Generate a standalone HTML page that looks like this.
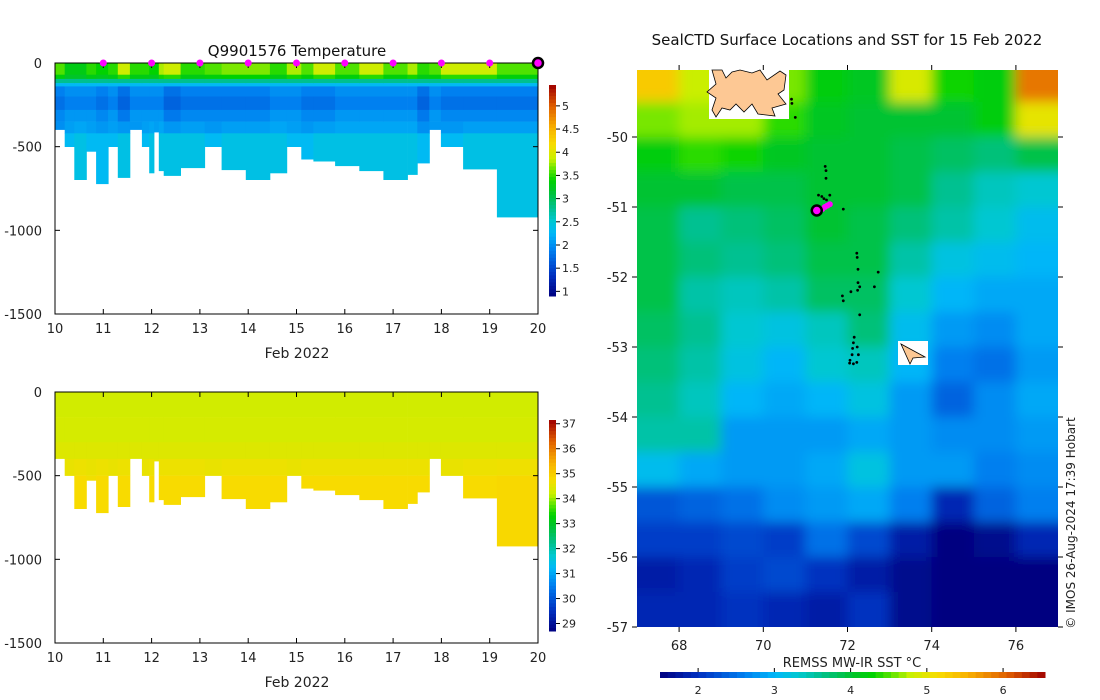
<!DOCTYPE html>
<html><head><meta charset="utf-8">
<style>
body{margin:0;background:#fff;}
svg{display:block;font-family:"DejaVu Sans","Liberation Sans",sans-serif;}
</style></head>
<body>
<svg id="root" width="1100" height="700" viewBox="0 0 1100 700" xmlns="http://www.w3.org/2000/svg">
<defs>
<filter id="blur" x="-5%" y="-5%" width="110%" height="110%"><feGaussianBlur stdDeviation="6"/></filter>
<clipPath id="mapclip"><rect x="637" y="70" width="421" height="557"/></clipPath>
</defs>
<g id="tchart"></g>
<g id="schart"></g>
<g id="map"></g>
</svg>
<script>
// ---- Section data ----
const profileStart=[10.0,10.2,10.4,10.65,10.85,11.1,11.3,11.55,11.8,11.95,12.05,12.15,12.25,12.6,13.1,13.45,13.95,14.45,14.8,15.1,15.35,15.8,16.3,16.8,17.3,17.5,17.75,17.99,18.45,19.15,19.5];
const profileDepth=[398,500,697,528,722,500,685,398,500,657,413,644,673,626,500,638,697,657,500,575,587,614,644,697,667,598,398,500,634,921];
const surfTemp=[3.6,3.3,3.3,3.5,3.4,3.5,3.9,3.5,3.5,3.4,3.4,3.8,3.9,3.5,3.6,3.7,3.7,3.5,3.8,3.6,3.9,3.6,3.9,3.6,3.8,3.5,3.6,3.9,3.9,3.6];
const minTemp=[1.8,1.9,1.9,1.9,1.8,1.9,1.7,1.9,1.9,1.9,1.9,1.9,1.7,1.8,1.8,1.8,1.8,1.9,1.9,1.8,1.8,1.9,1.9,1.9,1.9,1.7,1.9,1.8,1.8,1.8];
const deepTemp=[2.2,2.3,2.4,2.3,2.3,2.3,2.4,2.2,2.3,2.4,2.3,2.4,2.4,2.4,2.3,2.4,2.4,2.4,2.3,2.3,2.4,2.4,2.4,2.4,2.4,2.3,2.2,2.3,2.4,2.4];
const upperSal=[34.3,34.3,34.3,34.3,34.3,34.3,34.3,34.3,34.3,34.3,34.3,34.3,34.3,34.3,34.3,34.3,34.3,34.3,34.3,34.3,34.3,34.3,34.3,34.3,34.3,34.3,34.3,34.3,34.3,34.3];
const deepSal=[34.6,34.7,34.8,34.7,34.8,34.7,34.8,34.6,34.7,34.8,34.6,34.8,34.8,34.8,34.7,34.8,34.8,34.8,34.7,34.8,34.8,34.8,34.8,34.8,34.8,34.8,34.6,34.7,34.8,34.85];
const markerDays=[11,12,13,14,15,16,17,18,19];
const lastDay=20;
const dayTicks=[10,11,12,13,14,15,16,17,18,19,20];
const depthTicks=[0,-500,-1000,-1500];
const tempTicks=[1,1.5,2,2.5,3,3.5,4,4.5,5];
const salTicks=[29,30,31,32,33,34,35,36,37];

// ---- Map data ----
const gridLon=[67,68,69,70,71,72,73,74,75,76];
const gridLat=[-49,-49.5,-50,-50.5,-51,-51.5,-52,-52.5,-53,-53.5,-54,-54.5,-55,-55.5,-56,-56.5];
const sst=[
[5.3,4.8,4.7,4.6,4.2,4.1,4.9,4.3,4.2,5.9],
[4.6,4.7,4.7,4.4,4.1,4.0,4.0,4.0,4.2,5.0],
[4.2,4.4,4.3,4.1,4.0,4.0,3.9,3.8,3.7,3.9],
[4.0,4.0,3.9,3.9,4.0,4.0,3.9,3.6,3.4,3.3],
[3.9,3.6,3.7,3.8,4.0,3.9,3.7,3.5,3.3,3.1],
[3.9,3.7,3.6,3.7,3.9,3.9,3.5,3.2,3.1,3.0],
[3.9,3.5,3.4,3.5,3.8,3.8,3.3,3.0,2.9,2.9],
[3.8,3.6,3.3,3.2,3.4,3.7,3.1,2.8,2.7,2.9],
[3.7,3.5,3.2,3.0,3.3,3.4,3.0,2.6,2.5,2.8],
[3.6,3.4,3.0,2.9,3.0,3.2,2.8,2.4,2.7,2.9],
[3.5,3.5,2.8,2.8,2.8,2.9,2.8,2.7,2.7,2.8],
[3.1,2.9,2.8,2.8,2.9,3.2,2.8,2.8,2.6,2.7],
[2.3,2.4,2.5,2.7,2.8,2.9,2.6,1.9,2.4,2.6],
[2.1,2.1,2.2,2.1,2.5,2.2,1.8,1.5,1.6,1.9],
[1.8,1.9,2.1,2.2,2.0,1.8,1.6,1.5,1.5,1.5],
[1.9,1.9,2.0,1.9,1.8,2.0,1.6,1.5,1.5,1.5]];
const trackLon=[70.67,70.68,70.76,71.47,71.49,71.49,71.31,71.39,71.44,71.50,71.58,71.90,72.22,72.23,72.25,72.73,72.25,72.29,72.64,72.24,72.08,71.88,71.90,72.29,72.16,72.14,72.23,72.12,72.26,72.11,72.06,72.05,72.14,72.22];
const trackLat=[-49.46,-49.52,-49.72,-50.42,-50.48,-50.59,-50.83,-50.85,-50.88,-50.90,-50.83,-51.03,-51.66,-51.72,-51.89,-51.93,-52.08,-52.14,-52.14,-52.19,-52.21,-52.27,-52.34,-52.54,-52.86,-52.94,-53.0,-53.02,-53.11,-53.11,-53.19,-53.23,-53.24,-53.22];
const recentLon=[71.40,71.46,71.52,71.58,71.35];
const recentLat=[-51.03,-51.0,-50.98,-50.96,-51.05];
const currentLon=71.27, currentLat=-51.05;
const lonTicks=[68,70,72,74,76];
const latTicks=[-50,-51,-52,-53,-54,-55,-56,-57];
const sstTicks=[2,3,4,5,6];

const NS="http://www.w3.org/2000/svg";
function mk(parent,tag,attrs,text){const e=document.createElementNS(NS,tag);for(const k in attrs)e.setAttribute(k,attrs[k]);if(text!==undefined)e.textContent=text;parent.appendChild(e);return e;}
const stops=[[0,[0,0,128]],[0.1,[0,48,192]],[0.22,[0,128,240]],[0.3,[0,184,248]],[0.36,[0,200,208]],[0.42,[0,192,140]],[0.5,[0,195,45]],[0.55,[0,210,0]],[0.6,[90,228,0]],[0.65,[200,240,0]],[0.72,[248,220,0]],[0.8,[248,176,0]],[0.9,[224,96,0]],[1,[160,0,0]]];
function cmap(v,lo,hi){let t=(v-lo)/(hi-lo);t=Math.max(0,Math.min(1,t));for(let i=1;i<stops.length;i++){if(t<=stops[i][0]){const a=stops[i-1],b=stops[i];const f=(t-a[0])/(b[0]-a[0]);const c=a[1].map((x,j)=>Math.round(x+(b[1][j]-x)*f));return `rgb(${c[0]},${c[1]},${c[2]})`;}}return 'rgb(160,0,0)';}

// ---- Section charts ----
const X0=55,X1=538;
function xDay(d){return X0+(d-10)*(X1-X0)/10;}
function buildSection(g,top,kind){
  const bot=top+251;
  const yD=dep=>top+dep*(251/1500);
  const plot=mk(g,'g',{});
  
  
  const lo=kind==='temperature'?0.9:28.7, hi=kind==='temperature'?5.45:37.15;
  for(let i=0;i<profileDepth.length;i++){
    const xa=xDay(profileStart[i]), xb=xDay(i+1<profileDepth.length?profileStart[i+1]:lastDay);
    const D=profileDepth[i];
    let layers;
    if(kind==='temperature'){
      const s=surfTemp[i],m=minTemp[i],d=deepTemp[i];
      layers=[[0,70,s],[70,95,(s+3.1)/2],[95,120,2.8],[120,140,2.3],[140,200,m+0.1],[200,280,m],[280,350,m+0.15],[350,420,(m+d)/2],[420,2000,d]];
    } else {
      const u=upperSal[i],d=deepSal[i];
      layers=[[0,150,u],[150,300,u+0.05],[300,400,u+0.15],[400,500,(u+d)/2+0.1],[500,2000,d]];
    }
    for(const L of layers){
      if(L[0]>=D)break;
      const r=mk(plot,'rect',{x:xa.toFixed(1),y:yD(L[0]).toFixed(1),width:(xb-xa+0.4).toFixed(1),height:(yD(Math.min(L[1],D))-yD(L[0])+0.3).toFixed(1),fill:cmap(L[2],lo,hi)});
      
      
    }
  }
  const ax=mk(g,'rect',{x:X0,y:top,width:X1-X0,height:251,fill:'none',stroke:'#000','stroke-width':1});
  
  
  for(const d of dayTicks){
    const x=xDay(d);
    mk(g,'line',{x1:x,x2:x,y1:bot,y2:bot-5,stroke:'#000'});
    mk(g,'line',{x1:x,x2:x,y1:top,y2:top+5,stroke:'#000'});
    const t=mk(g,'text',{x:x,y:bot+19,'text-anchor':'middle','font-size':13,fill:'#222'},String(d));
    
    
  }
  for(const v of depthTicks){
    const y=yD(-v);
    mk(g,'line',{x1:X0,x2:X0+5,y1:y,y2:y,stroke:'#000'});
    mk(g,'line',{x1:X1,x2:X1-5,y1:y,y2:y,stroke:'#000'});
    const t=mk(g,'text',{x:X0-13,y:y+5,'text-anchor':'end','font-size':13,fill:'#222'},String(v));
    
    
  }
  const xl=mk(g,'text',{x:297,y:bot+44,'text-anchor':'middle','font-size':14,fill:'#222'},'Feb 2022');
  
  
  const cb=mk(g,'g',{});
  
  
  const cbTop=kind==='temperature'?85:420, cbBot=kind==='temperature'?296:631;
  const ticks=kind==='temperature'?tempTicks:salTicks;
  const n=60;
  for(let k=0;k<n;k++){
    const v=lo+(hi-lo)*(k+0.5)/n;
    const y=cbBot-(k+1)*(cbBot-cbTop)/n;
    mk(cb,'rect',{x:549,y:y.toFixed(2),width:7,height:((cbBot-cbTop)/n+0.5).toFixed(2),fill:cmap(v,lo,hi)});
  }
  for(const v of ticks){
    const y=cbBot-(v-lo)/(hi-lo)*(cbBot-cbTop);
    mk(cb,'line',{x1:556,x2:560,y1:y,y2:y,stroke:'#000'});
    const t=mk(cb,'text',{x:562,y:y+4,'font-size':11,fill:'#222'},String(v));
    
    
  }
}
const tg=document.getElementById('tchart');
buildSection(tg,63,'temperature');
const ttl=mk(tg,'text',{x:297,y:56,'text-anchor':'middle','font-size':15,fill:'#111'},'Q9901576  Temperature');


for(const d of markerDays){
  const c=mk(tg,'circle',{cx:xDay(d),cy:63,r:3.5,fill:'#ff00ff'});
  
  
}
const lastM=mk(tg,'circle',{cx:xDay(lastDay),cy:63,r:5,fill:'#ff00ff',stroke:'#000','stroke-width':2.5});


buildSection(document.getElementById('schart'),392,'salinity');

// ---- Map ----
const mg=document.getElementById('map');
const MX0=637,MX1=1058,MY0=70,MY1=627;
const lonX=l=>MX0+(l-67)*(MX1-MX0)/10;
const latY=l=>137+(-50-l)*70;
const field=mk(mg,'g',{'clip-path':'url(#mapclip)'});


const fb=mk(field,'g',{filter:'url(#blur)'});
for(let r=0;r<gridLat.length;r++)for(let c=0;c<gridLon.length;c++){
  const x0=lonX(gridLon[c]),y0=latY(gridLat[r]);
  const ex=c===0?30:0, ey=r===0?30:0, ex2=c===gridLon.length-1?30:0, ey2=r===gridLat.length-1?30:0;
  const cell=mk(fb,'rect',{x:(x0-ex).toFixed(1),y:(y0-ey).toFixed(1),width:(lonX(gridLon[c]+1)-x0+ex+ex2+0.5).toFixed(1),height:(latY(gridLat[r]-0.5)-y0+ey+ey2+0.5).toFixed(1),fill:cmap(sst[r][c],1.5,6.55)});
  
  
}
const heard=mk(mg,'g',{});


mk(heard,'rect',{x:709,y:70,width:80,height:49,fill:'#fff'});
mk(heard,'polygon',{points:'712,70 722,70 726,78 732,72 740,70 752,73 760,70 767,80 780,71 786,75 784,90 778,94 786,104 772,108 775,116 758,114 752,104 744,112 736,104 730,110 722,108 716,117 712,110 716,98 707,92 716,84',fill:'#fdc894',stroke:'#000','stroke-width':0.8});
const mcd=mk(mg,'g',{});


mk(mcd,'rect',{x:898,y:341,width:30,height:24,fill:'#fff'});
mk(mcd,'polygon',{points:'901,344 925,357 913,358 910,364',fill:'#fdc894',stroke:'#000','stroke-width':0.8});
for(let i=0;i<trackLon.length;i++){
  const d=mk(mg,'circle',{cx:lonX(trackLon[i]).toFixed(1),cy:latY(trackLat[i]).toFixed(1),r:1.4,fill:'#000'});
  
  
}
for(let i=0;i<recentLon.length;i++){
  const d=mk(mg,'circle',{cx:lonX(recentLon[i]).toFixed(1),cy:latY(recentLat[i]).toFixed(1),r:3,fill:'#ff00ff'});
  
  
}
const cur=mk(mg,'circle',{cx:lonX(currentLon),cy:latY(currentLat),r:5,fill:'#ff00ff',stroke:'#000','stroke-width':2.5});


for(const l of lonTicks){
  const x=lonX(l);
  mk(mg,'line',{x1:x,x2:x,y1:MY0,y2:MY0-5,stroke:'#000'});
  mk(mg,'line',{x1:x,x2:x,y1:MY1,y2:MY1+5,stroke:'#000'});
  const t=mk(mg,'text',{x:x,y:MY1+23,'text-anchor':'middle','font-size':13,fill:'#222'},String(l));
  
  
}
for(const l of latTicks){
  const y=latY(l);
  mk(mg,'line',{x1:MX0,x2:MX0-5,y1:y,y2:y,stroke:'#000'});
  mk(mg,'line',{x1:MX1,x2:MX1+5,y1:y,y2:y,stroke:'#000'});
  const t=mk(mg,'text',{x:MX0-9,y:y+5,'text-anchor':'end','font-size':13,fill:'#222'},String(l));
  
  
}
const mt=mk(mg,'text',{x:847,y:45,'text-anchor':'middle','font-size':15,fill:'#111'},'SealCTD Surface Locations and SST for 15 Feb 2022');


const cr=mk(mg,'text',{x:0,y:0,'text-anchor':'middle','font-size':12,fill:'#222',transform:'translate(1075,523) rotate(-90)'},'© IMOS 26-Aug-2024 17:39 Hobart');


const cbl=mk(mg,'text',{x:852,y:667,'text-anchor':'middle','font-size':13,fill:'#222'},'REMSS MW-IR SST °C');


const scb=mk(mg,'g',{});


const CB0=660,CB1=1045,SLO=1.5,SHI=6.55;
for(let k=0;k<50;k++){
  const v=SLO+(SHI-SLO)*(k+0.5)/50;
  mk(scb,'rect',{x:(CB0+k*(CB1-CB0)/50).toFixed(2),y:672,width:((CB1-CB0)/50+0.5).toFixed(2),height:6,fill:cmap(v,SLO,SHI)});
}
for(const v of sstTicks){
  const x=CB0+(v-SLO)/(SHI-SLO)*(CB1-CB0);
  mk(scb,'line',{x1:x,x2:x,y1:672,y2:668,stroke:'#000'});
  const t=mk(scb,'text',{x:x,y:694,'text-anchor':'middle','font-size':11,fill:'#222'},String(v));
  
  
}
</script>
</body></html>
